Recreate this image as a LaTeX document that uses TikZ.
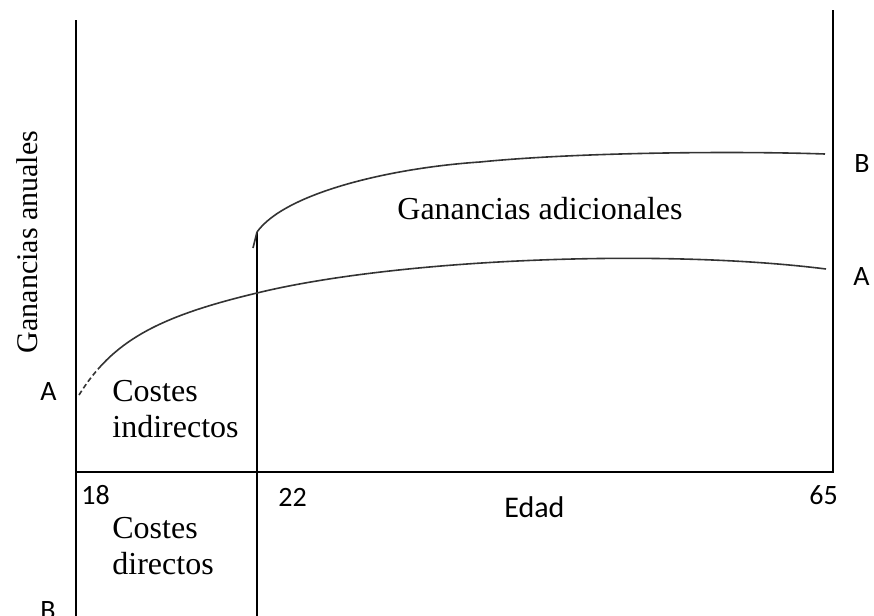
\documentclass[tikz,border=0pt]{standalone}
\usepackage{fontspec}
\setmainfont{Liberation Serif}
\newfontfamily\calibri{Carlito}
\usetikzlibrary{arrows.meta,positioning}

\begin{document}
\begin{tikzpicture} [
      x = 0.5pt, y = -0.5pt,
      axis/.style = { line width = 1pt, black },
      curve/.style = { line width = 0.8pt, black!80 },
      serif/.style = { inner sep = 0, font = \fontsize{16}{18}\selectfont },
      letter/.style = { inner sep = 0, font = \calibri\fontsize{14}{16}\selectfont }
      ]
    \useasboundingbox (0,0) rectangle (874,616);

    % axes
    \coordinate (top) at (76,20);
    \coordinate (origin) at (76,472);
    \coordinate (bottom) at (76,616);
    \coordinate (end) at (833,472);
    \coordinate (rtop) at (833,10);
    \coordinate (age22) at (257,616);
    \coordinate (jump) at (257,232);

    \draw [axis] (top) -- (bottom);
    \draw [axis] (origin) -- (end) -- (rtop);
    \draw [axis] (age22) -- (jump);
    \draw [curve] (jump) -- ++(-4,16);

    % earnings profiles
    \coordinate (startA) at (79,395);
    \coordinate (crossA) at (257,293);
    \coordinate (endA) at (826,269);
    \coordinate (midB) at (480,162);
    \coordinate (endB) at (825,154);

    \draw [curve, dash pattern = on 2.5pt off 1.5pt on 2.5pt off 1.5pt on 2.5pt off 1.5pt on 2.5pt off 1.5pt on 600pt]
      (startA) .. controls (112,342) and (156,317) .. (crossA);
    \draw [curve] (crossA) .. controls (396,259) and (660,248) .. (endA);
    \draw [curve] (jump) .. controls (285,193) and (390,168) .. (midB)
      .. controls (580,152) and (740,151) .. (endB);

    % labels
    \node [rotate = 90, inner sep = 0, font = \fontsize{15}{17}\selectfont] (ylabel) at (27,242) {Ganancias anuales};
    \node [serif, anchor = base west] (gain) at (397,219) {Ganancias adicionales};
    \node [serif, anchor = north west, align = left] (indirect) at (112,380) {Costes\\indirectos};
    \node [serif, anchor = north west, align = left] (direct) at (112,517) {Costes\\directos};

    \node [letter, anchor = base west] (a18) at (81,504) {18};
    \node [letter, anchor = base west] (a22) at (278,506) {22};
    \node [letter, anchor = base west] (a65) at (809,504) {65};
    \node [letter, anchor = base west, font = \calibri\fontsize{15}{17}\selectfont] (edad) at (504,517) {Edad};

    \node [letter, anchor = base west] (aleft) at (40,400) {A};
    \node [letter, anchor = base west] (bleft) at (40,619) {B};
    \node [letter, anchor = base west] (bright) at (854,172) {B};
    \node [letter, anchor = base west] (aright) at (853,285) {A};
\end{tikzpicture}
\end{document}
